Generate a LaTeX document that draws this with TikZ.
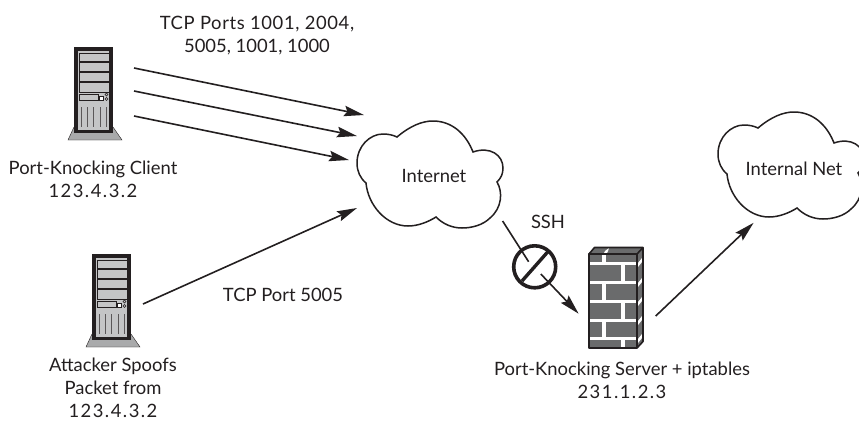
\documentclass[tikz,border=0pt]{standalone}
\usepackage{fontspec}
\setmainfont{Lato}
\usetikzlibrary{arrows.meta}
\definecolor{ink}{HTML}{231F20}
\definecolor{towergray}{HTML}{C4C5C6}
\definecolor{basegray}{HTML}{A9AAAB}
\definecolor{brick}{HTML}{6A6B6C}
\newcommand{\wider}[2]{{\addfontfeature{LetterSpace=#1}#2}}
\tikzset{
  conn/.style={line width=1.6pt,draw=ink,-{Stealth[length=20pt,width=10.5pt,inset=3pt]}},
  plainconn/.style={line width=1.6pt,draw=ink},
  lbl/.style={font=\fontsize{18.4}{23}\selectfont,text=ink,align=center,inner sep=0pt,anchor=base},
  cloudline/.style={line width=1.5pt,draw=ink,fill=white},
  tower/.pic={
    % origin = top left of the cabinet
    \fill[basegray,draw=ink,line width=.4pt] (0,80) -- (-6,93) -- (48,93) -- (39,80) -- cycle;
    \draw[fill=towergray,draw=ink,line width=3.6pt] (1.8,1.8) rectangle (37.2,84.5);
    \draw[ink,line width=.8pt] (5,6) rectangle (35,45);
    \draw[ink,line width=1.3pt] (5,15) -- (35,15);
    \draw[ink,line width=1.3pt] (5,25) -- (35,25);
    \draw[ink,line width=1.3pt] (5,35) -- (35,35);
    \draw[ink,line width=.8pt] (5,47) rectangle (24,53);
    \draw[ink,fill=white,line width=.8pt] (25,49) rectangle (29,53);
    \draw[ink,line width=.6pt] (32.5,47.5) circle (1.5) (32.5,52) circle (1.5);
    \foreach \vx in {7,13,19.5,26,32}{\draw[ink!75,line width=1pt] (\vx,60) -- (\vx,80);}
  },
}
\newcommand{\cloudpath}{
  (397,137) .. controls (410,126) and (422,121) .. (433,121)
  .. controls (452,121) and (466,134) .. (473,152)
  .. controls (490,146) and (503,155) .. (503,168)
  .. controls (503,174) and (501,178) .. (497,182)
  .. controls (503,192) and (502,208) .. (490,218)
  .. controls (483,225) and (472,228) .. (462,228)
  .. controls (452,228) and (443,224) .. (436,217)
  .. controls (428,222) and (418,226) .. (408,226)
  .. controls (386,226) and (368,205) .. (366,183)
  .. controls (360,178) and (357,171) .. (357,163)
  .. controls (357,146) and (370,134) .. (383,134)
  .. controls (388,134) and (393,135) .. (397,137) -- cycle
}
\begin{document}
\begin{tikzpicture}[x=1pt,y=-1pt]
\useasboundingbox (0,0) rectangle (859,421);
\clip (0,0) rectangle (859,421);
\fill[white] (0,0) rectangle (859,421);
% servers
\pic at (74,47) {tower};
\pic at (92,254) {tower};
% clouds
\draw[cloudline] \cloudpath;
\begin{scope}[shift={(361,-9)}]
\draw[cloudline] \cloudpath;
\end{scope}
% firewall
\begin{scope}[shift={(2,1)}]
\fill[brick] (587,253) rectangle (635,347);
\fill[white] (587,260.5) rectangle (635,264);
\fill[white] (587,279.5) rectangle (635,283);
\fill[white] (587,298.5) rectangle (635,302);
\fill[white] (587,317.5) rectangle (635,321);
\fill[white] (587,336) rectangle (635,339);
\fill[white] (600,253) rectangle (604,261);
\fill[white] (619,263) rectangle (623,280);
\fill[white] (600,282) rectangle (604,299);
\fill[white] (619,301) rectangle (623,318);
\fill[white] (600,320) rectangle (604,337);
\fill[white] (619,338) rectangle (623,347);
\fill[brick] (587,253) -- (592.5,246.5) -- (641,246.5) -- (635,253) -- cycle;
\fill[white] (601.5,253) -- (603,250) -- (607,247) -- (606,250) -- (604.5,253) -- cycle;
\fill[brick] (635,253) -- (641,246.5) -- (641,340.5) -- (635,347) -- cycle;
\foreach \wy in {262,282,301,320,338}{\fill[white] (636,\wy) -- (640,\wy-5) -- (640,\wy-1) -- (636,\wy+4) -- cycle;}
\draw[ink,line width=1.6pt,line join=round] (587,253) rectangle (635,347);
\draw[ink,line width=1.6pt,line join=round] (587,253) -- (592.5,246.5) -- (641,246.5) -- (641,340.5) -- (635,347) (635,253) -- (641,246.5);
\end{scope}
% named connector ends
\coordinate (c1) at (134,68); \coordinate (t1) at (364,115);
\coordinate (c2) at (134,91); \coordinate (t2) at (357,136);
\coordinate (c3) at (134,116); \coordinate (t3) at (349,160);
\coordinate (a1) at (143,304); \coordinate (t4) at (357,208);
\coordinate (s1) at (502.6,221); \coordinate (s2) at (528.6,261.7);
\coordinate (s3) at (540.8,274); \coordinate (s4) at (578.6,313.7);
\coordinate (o1) at (655.7,316); \coordinate (o2) at (753.6,222.8);
\draw[conn] (c1) -- (t1);
\draw[conn] (c2) -- (t2);
\draw[conn] (c3) -- (t3);
\draw[conn] (a1) -- (t4);
\draw[plainconn] (s1) -- (s2);
\draw[conn] (s3) -- (s4);
\draw[conn] (o1) -- (o2);
% no-entry sign
\node[circle,draw=ink,line width=3.6pt,minimum size=42pt,inner sep=0pt] (stop) at (534.7,266.8) {};
\draw[ink,line width=3.4pt] (522,281) -- (547.6,252);
% labels
\node[lbl] (l1) at (257,52) {\wider{3.4}{TCP Ports 1001, 2004,}\\5005, 1001, 1000};
\node[lbl] (l2) at (93,197) {Port-Knocking Client\\\wider{8}{123.4.3.2}};
\node[lbl] (l3) at (113,417.5) {Attacker Spoofs\\Packet from\\\wider{8}{123.4.3.2}};
\node[lbl] (l4) at (283,301) {TCP Port 5005};
\node[lbl] (l5) at (434,182) {Internet};
\node[lbl] (l6) at (794,175) {Internal Net};
\node[lbl] (l7) at (548,228.5) {SSH};
\node[lbl] (l8) at (622,398) {Port-Knocking Server + iptables\\\wider{8}{231.1.2.3}};
\end{tikzpicture}
\end{document}
